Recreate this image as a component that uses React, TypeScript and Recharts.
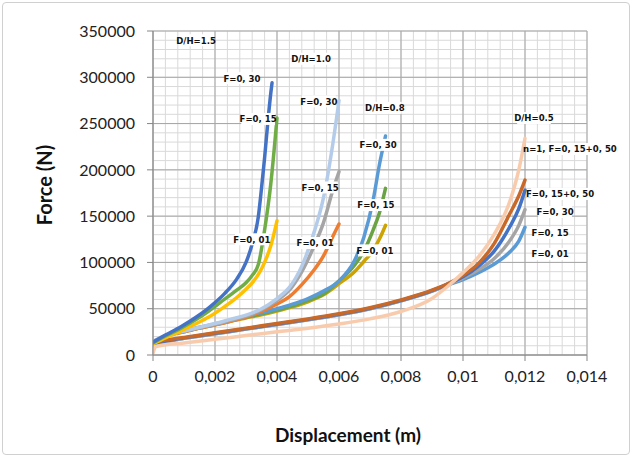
import { LineChart, Line, XAxis, YAxis, CartesianGrid, ReferenceDot } from 'recharts';

// x positions (m) per curve family
const xDh15a = [0, 0.0004, 0.0009, 0.0014, 0.0018, 0.0023, 0.0027, 0.003, 0.0032, 0.0034, 0.0035, 0.0036, 0.0037, 0.0038, 0.00384];
const xDh15 = [0, 0.0004, 0.0009, 0.0014, 0.0018, 0.0023, 0.0027, 0.003, 0.0032, 0.0034, 0.0036, 0.0038, 0.004];
const xDh10 = [0, 0.0004, 0.001, 0.0015, 0.002, 0.0025, 0.003, 0.0035, 0.004, 0.0044, 0.0048, 0.0052, 0.0055, 0.0058, 0.006];
const xDh08 = [0, 0.0004, 0.001, 0.0015, 0.002, 0.0025, 0.003, 0.0035, 0.004, 0.0045, 0.005, 0.0055, 0.006, 0.0065, 0.0068, 0.0071, 0.0073, 0.0075];
const xDh05 = [0, 0.0001, 0.001, 0.002, 0.003, 0.004, 0.005, 0.006, 0.007, 0.008, 0.009, 0.0095, 0.01, 0.0105, 0.011, 0.0115, 0.0118, 0.012];

// force (N)
const dh15F30 = [14000, 21500, 30500, 41000, 51000, 66000, 82000, 100000, 120000, 150000, 180000, 213000, 250000, 283000, 294000];
const dh15F15 = [13000, 20500, 29000, 38500, 47500, 60000, 70000, 78000, 86000, 98000, 135000, 185000, 256000];
const dh15F01 = [12000, 18500, 26000, 34000, 41000, 52000, 62000, 71000, 78000, 87000, 100000, 118000, 145000];

const dh10F30 = [15000, 21000, 26000, 30000, 34000, 38500, 43000, 50000, 61000, 73000, 96000, 133000, 170000, 228000, 275000];
const dh10F15 = [14500, 20500, 25500, 29500, 33000, 37500, 42000, 49000, 59000, 70000, 90000, 118000, 143000, 178000, 198000];
const dh10F01 = [14000, 20000, 25000, 29000, 32500, 36500, 41000, 47000, 55000, 63000, 76000, 92000, 107000, 128000, 141500];

const dh08F30 = [14000, 21000, 26000, 30000, 33500, 37500, 42000, 45500, 50000, 55000, 61000, 69000, 80000, 102000, 127000, 167000, 205000, 236500];
const dh08F15 = [13500, 20500, 25500, 29500, 33000, 37000, 41000, 44500, 48500, 53000, 59000, 66000, 80000, 97000, 112000, 135000, 153000, 180000];
const dh08F01 = [13000, 20000, 25000, 29000, 32500, 36500, 40000, 43500, 47500, 52000, 57500, 65000, 77000, 90000, 101000, 113000, 125000, 140000];

const dh05F01 = [12500, 13000, 18000, 23000, 28000, 33000, 38000, 43500, 50000, 58500, 69000, 75500, 81500, 89000, 98000, 111000, 123000, 138000];
const dh05F30 = [12500, 13000, 18000, 23000, 28000, 33000, 38000, 43500, 50000, 58500, 69000, 76000, 83000, 92000, 104000, 123000, 140000, 157000];
const dh05F15 = [13000, 13500, 18500, 23500, 28500, 33500, 38500, 44000, 50500, 59000, 69500, 76500, 84500, 96000, 112000, 138000, 158000, 178000];
const dh05Comb = [14000, 14500, 19000, 24000, 29000, 34000, 39000, 44500, 51000, 59500, 70000, 77000, 86000, 99000, 120000, 152000, 172000, 189000];
const dh05N1 = [2000, 9000, 13000, 17000, 21000, 25000, 29000, 33500, 39000, 47000, 61000, 74000, 89000, 106000, 130000, 165000, 200000, 234000];

const xTicks = [0, 0.002, 0.004, 0.006, 0.008, 0.01, 0.012, 0.014];
const yTicks = [0, 50000, 100000, 150000, 200000, 250000, 300000, 350000];

const notes = [
  { text: 'D/H=1.5', x: 0.00139, y: 340000 },
  { text: 'D/H=1.0', x: 0.0051, y: 320000 },
  { text: 'D/H=0.8', x: 0.00748, y: 267000 },
  { text: 'D/H=0.5', x: 0.01229, y: 256000 },
  { text: 'F=0, 30', x: 0.00287, y: 299000 },
  { text: 'F=0, 15', x: 0.00339, y: 255000 },
  { text: 'F=0, 01', x: 0.00319, y: 125000 },
  { text: 'F=0, 30', x: 0.00535, y: 274000 },
  { text: 'F=0, 15', x: 0.00539, y: 181000 },
  { text: 'F=0, 01', x: 0.00523, y: 121000 },
  { text: 'F=0, 30', x: 0.00726, y: 227000 },
  { text: 'F=0, 15', x: 0.00719, y: 162000 },
  { text: 'F=0, 01', x: 0.00716, y: 113000 },
  { text: 'n=1, F=0, 15+0, 50', x: 0.01345, y: 222500 },
  { text: 'F=0, 15+0, 50', x: 0.01313, y: 174000 },
  { text: 'F=0, 30', x: 0.01297, y: 154500 },
  { text: 'F=0, 15', x: 0.01281, y: 132000 },
  { text: 'F=0, 01', x: 0.01281, y: 109000 },
];

const pts = (xs: number[], ys: number[]) => xs.map((x, i) => ({ x, y: ys[i] }));

const series = [
  { key: 'dh05F01', data: pts(xDh05, dh05F01), color: '#5B9BD5' },
  { key: 'dh05F30', data: pts(xDh05, dh05F30), color: '#A5A5A5' },
  { key: 'dh05F15', data: pts(xDh05, dh05F15), color: '#4472C4' },
  { key: 'dh05Comb', data: pts(xDh05, dh05Comb), color: '#C8692A' },
  { key: 'dh05N1', data: pts(xDh05, dh05N1), color: '#F8CBAD' },
  { key: 'dh08F01', data: pts(xDh08, dh08F01), color: '#CCA300' },
  { key: 'dh08F15', data: pts(xDh08, dh08F15), color: '#6AA343' },
  { key: 'dh08F30', data: pts(xDh08, dh08F30), color: '#5B9BD5' },
  { key: 'dh10F01', data: pts(xDh10, dh10F01), color: '#ED7D31' },
  { key: 'dh10F15', data: pts(xDh10, dh10F15), color: '#A5A5A5' },
  { key: 'dh10F30', data: pts(xDh10, dh10F30), color: '#B4CCE9' },
  { key: 'dh15F01', data: pts(xDh15, dh15F01), color: '#FFC000' },
  { key: 'dh15F15', data: pts(xDh15, dh15F15), color: '#70AD47' },
  { key: 'dh15F30', data: pts(xDh15a, dh15F30), color: '#4472C4' },
];

const fmtX = (v: number) => (v === 0 ? '0' : String(v).replace('.', ','));

function NoteBox(props: any) {
  const { cx, cy, text } = props;
  const w = text.length * 4.1 + 5;
  return (
    <g>
      <rect x={cx - w / 2} y={cy - 6} width={w} height={12} fill="#fff" />
      <text
        x={cx}
        y={cy}
        dy="0.35em"
        textAnchor="middle"
        fontSize={9.5}
        fontWeight="bold"
        fontFamily="'Liberation Sans Narrow', 'DejaVu Sans Condensed', sans-serif"
        fill="#111"
      >
        {text}
      </text>
    </g>
  );
}

const minorV = ({ offset }: any) =>
  Array.from({ length: 36 }, (_, i) => offset.left + (i * offset.width) / 35);
const minorH = ({ offset }: any) =>
  Array.from({ length: 36 }, (_, i) => offset.top + (i * offset.height) / 35);

export default function App() {
  return (
    <div style={{ position: 'absolute', left: 0, top: 0, width: 632, height: 457, background: '#fff' }}>
      <div
        style={{
          position: 'absolute',
          left: 2,
          top: 2,
          width: 626,
          height: 451,
          border: '1px solid #d0d0d0',
          borderRadius: 4,
        }}
      />
      <LineChart
        width={632}
        height={457}
        margin={{ top: 31, right: 45, left: 0, bottom: 0 }}
        style={{ position: 'absolute', left: 0, top: 0 }}
      >
        <CartesianGrid
          stroke="#d9d9d9"
          strokeWidth={1}
          verticalCoordinatesGenerator={minorV}
          horizontalCoordinatesGenerator={minorH}
        />
        <CartesianGrid stroke="#a6a6a6" strokeWidth={1} />
        <XAxis
          type="number"
          dataKey="x"
          domain={[0, 0.014]}
          ticks={xTicks}
          tickFormatter={fmtX}
          height={102}
          stroke="#868686"
          tickSize={6}
          tickMargin={10}
          tick={{ fill: '#222', fontSize: 16, fontFamily: 'Lato, sans-serif' }}
          allowDataOverflow
          label={{
            value: 'Displacement (m)',
            position: 'insideBottom',
            offset: 15,
            dx: -22,
            style: { fill: '#111', fontSize: 19, fontWeight: 'bold', fontFamily: 'Lato, sans-serif' },
          }}
        />
        <YAxis
          type="number"
          domain={[0, 350000]}
          ticks={yTicks}
          width={153}
          stroke="#868686"
          tickSize={6}
          tickMargin={12}
          tick={{ fill: '#222', fontSize: 16, fontFamily: 'Lato, sans-serif' }}
          label={{
            value: 'Force  (N)',
            angle: -90,
            position: 'insideLeft',
            offset: 45,
            dy: -8,
            style: {
              fill: '#111',
              fontSize: 20,
              fontWeight: 'bold',
              fontFamily: 'Lato, sans-serif',
              textAnchor: 'middle',
              whiteSpace: 'pre',
            },
          }}
        />
        {series.map((s) => (
          <Line
            key={s.key}
            data={s.data}
            dataKey="y"
            type="monotone"
            stroke={s.color}
            strokeWidth={3.5}
            strokeLinecap="round"
            dot={false}
            activeDot={false}
            isAnimationActive={false}
          />
        ))}
        {notes.map((n, i) => (
          <ReferenceDot
            key={i}
            x={n.x}
            y={n.y}
            r={0}
            ifOverflow="visible"
            shape={(p: any) => <NoteBox {...p} text={n.text} />}
          />
        ))}
      </LineChart>
    </div>
  );
}
